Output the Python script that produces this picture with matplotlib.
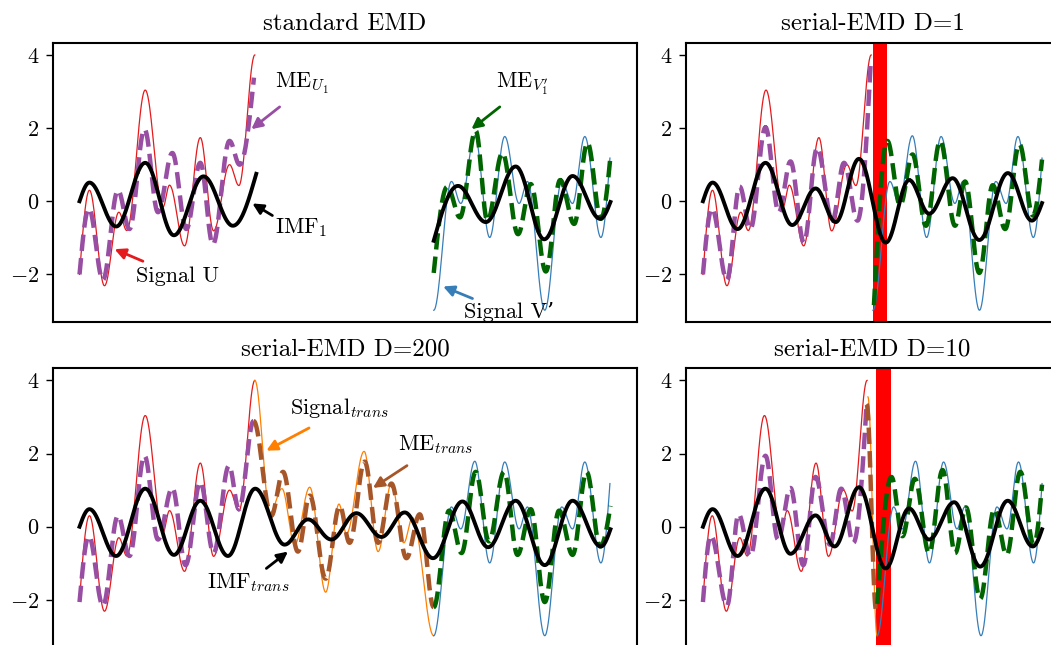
import numpy as np
import matplotlib
matplotlib.use("Agg")
import matplotlib.pyplot as plt

plt.rcParams["font.family"] = ["cmr10", "DejaVu Serif"]
plt.rcParams["mathtext.fontset"] = "cm"
plt.rcParams["axes.formatter.use_mathtext"] = True
plt.rcParams["axes.unicode_minus"] = True

# extrema (time in units of 200 samples)
u_t = [0, 0.056, 0.141, 0.222, 0.267, 0.371, 0.471, 0.508, 0.593, 0.682, 0.757, 0.847, 0.900, 0.990]
u_sig = [-2.0, 0.30, -2.31, -0.30, -0.80, 3.04, -0.16, 0.44, -1.22, 1.74, -0.81, 1.00, 0.43, 4.0]

v_t = [0, 0.100, 0.153, 0.232, 0.316, 0.401, 0.482, 0.529, 0.627, 0.723, 0.784, 0.853, 0.944, 0.995]
v_sig = [-2.98, 0.54, -0.06, 1.79, -0.99, 1.77, -0.06, 0.54, -2.98, 0.54, -0.06, 1.77, -0.99, 1.18]

# standard EMD
me_u_t = [0, 0.053, 0.132, 0.217, 0.282, 0.367, 0.443, 0.524, 0.603, 0.682, 0.753, 0.847, 0.904, 0.985]
me_u = [-2.0, -0.20, -2.15, 0.30, -0.76, 1.97, -0.30, 1.32, -0.76, 1.05, -1.18, 1.65, 1.00, 3.38]
imf_u_t = [0, 0.056, 0.207, 0.371, 0.533, 0.700, 0.866, 0.998]
imf_u = [0.0, 0.51, -0.69, 1.05, -0.93, 0.68, -0.67, 0.75]
me_v_t = [2.0, 2.077, 2.148, 2.237, 2.303, 2.388, 2.476, 2.548, 2.633, 2.714, 2.793, 2.868, 2.944, 2.998]
me_v = [-1.96, 0.40, -0.44, 1.93, -0.53, 1.32, -0.90, 0.47, -1.92, 0.58, -0.62, 1.60, -0.48, 1.23]
imf_v_t = [2.0, 2.137, 2.294, 2.463, 2.624, 2.784, 2.940, 2.998]
imf_v = [-1.08, 0.42, -0.57, 0.95, -1.04, 0.69, -0.48, -0.02]

# serial-EMD D=200
me200_u_t = [0, 0.053, 0.132, 0.217, 0.282, 0.367, 0.443, 0.524, 0.599, 0.682, 0.757, 0.844, 0.900, 0.983]
me200_u = [-2.06, -0.26, -2.16, 0.30, -0.80, 1.94, -0.35, 1.06, -1.05, 1.22, -0.72, 1.67, 0.48, 2.89]
trans200_t = [0.990, 1.077, 1.143, 1.215, 1.300, 1.390, 1.465, 1.507, 1.607, 1.686, 1.761, 1.831, 1.880, 2.0]
trans200 = [4.0, 0.39, 1.04, -0.49, 1.08, -1.79, 0.62, -0.19, 2.06, -0.68, 1.18, -0.44, 0.25, -2.98]
me_trans200_t = [0.983, 1.083, 1.149, 1.233, 1.300, 1.390, 1.469, 1.525, 1.610, 1.686, 1.761, 1.846, 1.921, 2.0]
me_trans200 = [2.89, 0.30, 1.50, -0.68, 0.85, -1.42, 0.57, -0.44, 1.78, -0.44, 1.18, -0.86, 0.34, -2.20]
me200_v_t = [2.0, 2.087, 2.157, 2.237, 2.312, 2.397, 2.473, 2.548, 2.627, 2.708, 2.784, 2.863, 2.940, 2.998]
me200_v = [-2.20, 0.44, -0.72, 1.50, -0.40, 1.50, -0.77, 0.48, -2.06, 0.44, -0.77, 1.50, -0.54, 0.57]
imf200_t = [0, 0.056, 0.207, 0.371, 0.533, 0.682, 0.838, 0.992, 1.158, 1.290, 1.422, 1.563, 1.705,
            1.836, 1.996, 2.162, 2.307, 2.463, 2.627, 2.784, 2.944, 2.998]
imf200 = [0.0, 0.48, -0.80, 1.04, -0.77, 0.71, -0.80, 1.04, -0.49, 0.20, -0.35, 0.37, -0.28,
          0.39, -0.86, 0.69, -0.56, 0.71, -1.05, 0.71, -0.54, -0.07]

# serial-EMD D=1
me1_u_t = [0, 0.053, 0.141, 0.216, 0.279, 0.368, 0.446, 0.515, 0.594, 0.672, 0.761, 0.830, 0.909, 0.987]
me1_u = [-2.0, -0.20, -2.15, 0.40, -0.76, 2.02, -0.30, 1.09, -1.13, 1.46, -0.53, 1.05, -0.53, 3.78]
me1_v_t = [1.006, 1.085, 1.160, 1.233, 1.312, 1.396, 1.483, 1.542, 1.626, 1.705, 1.778, 1.862, 1.941, 1.995]
me1_v = [-2.84, 1.65, -0.11, 1.28, -0.67, 1.65, -0.67, 0.54, -1.96, 0.44, -0.76, 1.56, -0.39, 1.14]
imf1_t = [0, 0.057, 0.204, 0.368, 0.525, 0.663, 0.781, 0.918, 1.076, 1.213, 1.331, 1.469, 1.626, 1.794, 1.935, 1.995]
imf1 = [0.0, 0.51, -0.76, 1.05, -0.65, 0.35, -0.57, 1.16, -1.13, 0.58, -0.34, 0.63, -1.06, 0.77, -0.53, -0.05]
bar1 = (1.0, 1.085)

# serial-EMD D=10
me10_u_t = [0, 0.048, 0.145, 0.215, 0.286, 0.377, 0.453, 0.528, 0.605, 0.679, 0.766, 0.834, 0.907, 0.987]
me10_u = [-2.06, -0.24, -2.16, 0.34, -0.80, 1.94, -0.35, 1.06, -1.05, 1.36, -0.49, 1.04, -0.44, 3.35]
trans10_t = [0.995, 1.050]
trans10 = [3.55, -2.98]
me_trans10_t = [0.987, 1.045]
me_trans10 = [3.35, -2.30]
me10_v_t = [1.052, 1.137, 1.203, 1.278, 1.364, 1.445, 1.521, 1.586, 1.672, 1.757, 1.832, 1.914, 1.995, 2.045]
me10_v = [-2.11, 1.36, -0.26, 1.31, -0.72, 1.55, -0.72, 0.53, -1.97, 0.48, -0.77, 1.50, -0.49, 1.15]
imf10_t = [0, 0.058, 0.209, 0.377, 0.528, 0.679, 0.794, 0.941, 1.102, 1.243, 1.364, 1.515, 1.672, 1.838, 1.989, 2.045]
imf10 = [0.0, 0.48, -0.80, 1.04, -0.74, 0.31, -0.54, 1.08, -1.14, 0.50, -0.35, 0.67, -1.09, 0.71, -0.54, -0.07]
bar10 = (1.045, 1.137)

C_U, C_V, C_MEU, C_MEV = "#e41a1c", "#377eb8", "#984ea3", "darkgreen"
C_TR, C_METR = "#ff7f00", "#a65628"


def wave(tk, yk, start="slope", end="slope", n=40):
    # smooth curve through the read extrema
    ts, ys = [], []
    last = len(tk) - 2
    for i in range(len(tk) - 1):
        s = np.linspace(0, 1, n)
        if i == 0 and start == "slope" and last > 0:
            w = np.sin(np.pi / 2 * s)
        elif i == last and end == "slope" and last > 0:
            w = 1 - np.cos(np.pi / 2 * s)
        else:
            w = (1 - np.cos(np.pi * s)) / 2
        ts.append(tk[i] + (tk[i + 1] - tk[i]) * s)
        ys.append(yk[i] + (yk[i + 1] - yk[i]) * w)
    return np.concatenate(ts), np.concatenate(ys)


def thin(ax, tk, yk, c, **kw):
    ax.plot(*wave(tk, yk, **kw), color=c, lw=0.9)


def dashed(ax, tk, yk, c, **kw):
    ax.plot(*wave(tk, yk, **kw), color=c, lw=3.2, ls="--")


def imf(ax, tk, yk):
    ax.plot(*wave(tk, yk), color="k", lw=2.8)


def style(ax, title):
    ax.set_title(title, fontsize=18, pad=9)
    ax.set_ylim(-3.31, 4.33)
    ax.set_yticks([-2, 0, 2, 4])
    ax.set_xticks([])
    ax.tick_params(labelsize=16, length=5, width=1, pad=5)
    for sp in ax.spines.values():
        sp.set_linewidth(1.5)


def note(ax, text, xy_text, tail, head, c):
    ax.text(*xy_text, text, fontsize=16, ha="center", va="center")
    ax.annotate("", xy=head, xytext=tail,
                arrowprops=dict(arrowstyle="-|>", color=c, lw=2, mutation_scale=16,
                                shrinkA=0, shrinkB=0))


fig = plt.figure(figsize=(10.51, 6.45), dpi=100)
ax_tl = fig.add_axes([0.0504, 0.5003, 0.5557, 0.4332])
ax_tr = fig.add_axes([0.6527, 0.5003, 0.3549, 0.4332])
ax_bl = fig.add_axes([0.0504, -0.0043, 0.5557, 0.4332])
ax_br = fig.add_axes([0.6527, -0.0043, 0.3549, 0.4332])

# standard EMD
thin(ax_tl, u_t, u_sig, C_U, end="flat")
dashed(ax_tl, me_u_t, me_u, C_MEU)
thin(ax_tl, [t + 2.0 for t in v_t], v_sig, C_V, start="flat")
dashed(ax_tl, me_v_t, me_v, C_MEV)
imf(ax_tl, imf_u_t, imf_u)
imf(ax_tl, imf_v_t, imf_v)
style(ax_tl, "standard EMD")
note(ax_tl, r"ME$_{U_1}$", (1.254, 3.22), (1.13, 2.58), (0.97, 1.97), C_MEU)
note(ax_tl, r"IMF$_1$", (1.249, -0.72), (1.089, -0.39), (0.976, -0.06), "k")
note(ax_tl, "Signal U", (0.556, -2.06), (0.358, -1.64), (0.198, -1.31), C_U)
note(ax_tl, r"ME$_{V_1^{\prime}}$", (2.497, 3.22), (2.373, 2.58), (2.213, 1.97), C_MEV)
note(ax_tl, "Signal V\u2019", (2.424, -3.02), (2.219, -2.66), (2.053, -2.33), C_V)

# serial-EMD D=1
ax_tr.axvspan(*bar1, color="red", lw=0, zorder=0)
thin(ax_tr, u_t, u_sig, C_U, end="flat")
dashed(ax_tr, me1_u_t, me1_u, C_MEU)
thin(ax_tr, [t + 1.0 for t in v_t], v_sig, C_V, start="flat")
dashed(ax_tr, me1_v_t, me1_v, C_MEV)
imf(ax_tr, imf1_t, imf1)
style(ax_tr, "serial-EMD D=1")

# serial-EMD D=200
thin(ax_bl, u_t, u_sig, C_U, end="flat")
dashed(ax_bl, me200_u_t, me200_u, C_MEU, end="flat")
thin(ax_bl, trans200_t, trans200, C_TR, start="flat", end="flat")
dashed(ax_bl, me_trans200_t, me_trans200, C_METR, start="flat", end="flat")
thin(ax_bl, [t + 2.0 for t in v_t], v_sig, C_V, start="flat")
dashed(ax_bl, me200_v_t, me200_v, C_MEV, start="flat")
imf(ax_bl, imf200_t, imf200)
style(ax_bl, "serial-EMD D=200")
note(ax_bl, r"Signal$_{trans}$", (1.469, 3.25), (1.296, 2.70), (1.055, 2.08), C_TR)
note(ax_bl, r"ME$_{trans}$", (2.011, 2.25), (1.849, 1.67), (1.657, 1.06), C_METR)
note(ax_bl, r"IMF$_{trans}$", (0.955, -1.53), (1.055, -1.14), (1.177, -0.68), "k")

# serial-EMD D=10
ax_br.axvspan(*bar10, color="red", lw=0, zorder=0)
thin(ax_br, u_t, u_sig, C_U, end="flat")
dashed(ax_br, me10_u_t, me10_u, C_MEU)
thin(ax_br, trans10_t, trans10, C_TR)
dashed(ax_br, me_trans10_t, me_trans10, C_METR)
thin(ax_br, [t + 1.05 for t in v_t], v_sig, C_V, start="flat")
dashed(ax_br, me10_v_t, me10_v, C_MEV)
imf(ax_br, imf10_t, imf10)
style(ax_br, "serial-EMD D=10")

fig.savefig("out.png", dpi=100)
